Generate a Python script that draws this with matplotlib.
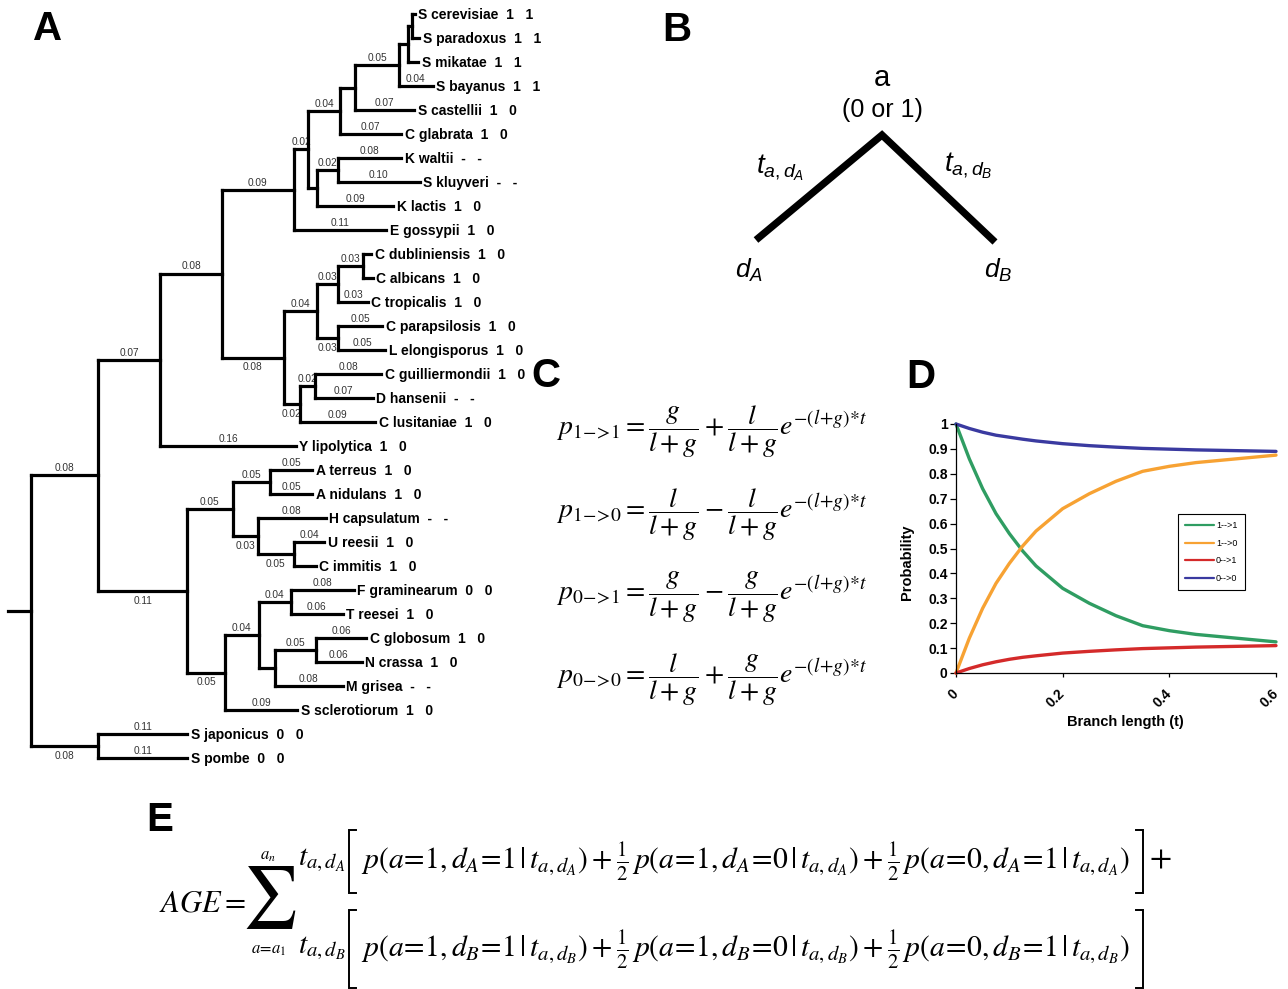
import matplotlib
matplotlib.use("Agg")
import matplotlib.pyplot as plt

W, H = 1288, 989

# ---------------- Panel A : tree data ----------------
LEAVES = ["S cerevisiae", "S paradoxus", "S mikatae", "S bayanus", "S castellii",
          "C glabrata", "K waltii", "S kluyveri", "K lactis", "E gossypii",
          "C dubliniensis", "C albicans", "C tropicalis", "C parapsilosis",
          "L elongisporus", "C guilliermondii", "D hansenii", "C lusitaniae",
          "Y lipolytica", "A terreus", "A nidulans", "H capsulatum", "U reesii",
          "C immitis", "F graminearum", "T reesei", "C globosum", "N crassa",
          "M grisea", "S sclerotiorum", "S japonicus", "S pombe"]
STATE_1 = ["1", "1", "1", "1", "1", "1", "-", "-", "1", "1",
           "1", "1", "1", "1", "1", "1", "-", "1", "1",
           "1", "1", "-", "1", "1", "0", "1", "1", "1", "-", "1", "0", "0"]
STATE_2 = ["1", "1", "1", "1", "0", "0", "-", "-", "0", "0",
           "0", "0", "0", "0", "0", "0", "-", "0", "0",
           "0", "0", "-", "0", "0", "0", "0", "0", "0", "-", "0", "0", "0"]

# internal node -> [(child, branch length, shown label)]
CLADES = {
    "root": [("n1", 0.080, "0.08"), ("n_sp", 0.080, "0.08")],
    "n1": [("n2", 0.074, "0.07"), ("n_pez", 0.106, "0.11")],
    "n2": [("n3", 0.073, "0.08"), ("Y lipolytica", 0.161, "0.16")],
    "n3": [("n_sac", 0.086, "0.09"), ("n_ctg", 0.074, "0.08")],
    "n_sac": [("s1", 0.017, "0.02"), ("E gossypii", 0.110, "0.11")],
    "s1": [("s2", 0.038, "0.04"), ("s5", 0.011, None)],
    "s2": [("s3", 0.018, None), ("C glabrata", 0.073, "0.07")],
    "s3": [("s4", 0.052, "0.05"), ("S castellii", 0.070, "0.07")],
    "s4": [("s6", 0.011, None), ("S bayanus", 0.040, "0.04")],
    "s6": [("s7", 0.005, None), ("S mikatae", 0.012, None)],
    "s7": [("S cerevisiae", 0.003, None), ("S paradoxus", 0.008, None)],
    "s5": [("s8", 0.024, "0.02"), ("K lactis", 0.090, "0.09")],
    "s8": [("K waltii", 0.076, "0.08"), ("S kluyveri", 0.098, "0.10")],
    "n_ctg": [("c1", 0.039, "0.04"), ("c5", 0.019, "0.02")],
    "c1": [("c2", 0.026, "0.03"), ("c4", 0.026, "0.03")],
    "c2": [("c3", 0.029, "0.03"), ("C tropicalis", 0.035, "0.03")],
    "c3": [("C dubliniensis", 0.010, None), ("C albicans", 0.012, None)],
    "c4": [("C parapsilosis", 0.052, "0.05"), ("L elongisporus", 0.056, "0.05")],
    "c5": [("c6", 0.018, "0.02"), ("C lusitaniae", 0.090, "0.09")],
    "c6": [("C guilliermondii", 0.079, "0.08"), ("D hansenii", 0.069, "0.07")],
    "n_pez": [("p1", 0.054, "0.05"), ("p5", 0.045, "0.05")],
    "p1": [("p2", 0.044, "0.05"), ("p3", 0.030, "0.03")],
    "p2": [("A terreus", 0.051, "0.05"), ("A nidulans", 0.051, "0.05")],
    "p3": [("H capsulatum", 0.081, "0.08"), ("p4", 0.043, "0.05")],
    "p4": [("U reesii", 0.036, "0.04"), ("C immitis", 0.026, None)],
    "p5": [("p6", 0.040, "0.04"), ("S sclerotiorum", 0.086, "0.09")],
    "p6": [("p7", 0.038, "0.04"), ("p8", 0.019, None)],
    "p7": [("F graminearum", 0.075, "0.08"), ("T reesei", 0.062, "0.06")],
    "p8": [("p9", 0.049, "0.05"), ("M grisea", 0.081, "0.08")],
    "p9": [("C globosum", 0.060, "0.06"), ("N crassa", 0.055, "0.06")],
    "n_sp": [("S japonicus", 0.106, "0.11"), ("S pombe", 0.106, "0.11")],
}
ROOT_STUB = 0.027

# ---------------- Panel B : schematic ----------------
B_X = [756, 882, 995]
B_Y = [240, 135, 242]

# ---------------- Panel D : curves ----------------
T_VALUES = [0, 0.025, 0.05, 0.075, 0.1, 0.125, 0.15, 0.2, 0.25, 0.3, 0.35,
            0.4, 0.45, 0.5, 0.55, 0.6]
P_11 = [1.0, 0.86, 0.74, 0.64, 0.56, 0.49, 0.43, 0.34, 0.28, 0.23, 0.19,
        0.17, 0.155, 0.145, 0.135, 0.125]
P_10 = [0.0, 0.14, 0.26, 0.36, 0.44, 0.51, 0.57, 0.66, 0.72, 0.77, 0.81,
        0.83, 0.845, 0.855, 0.865, 0.875]
P_01 = [0.0, 0.018, 0.033, 0.045, 0.055, 0.063, 0.069, 0.08, 0.087, 0.093,
        0.098, 0.101, 0.104, 0.106, 0.108, 0.11]
P_00 = [1.0, 0.982, 0.967, 0.955, 0.947, 0.939, 0.932, 0.921, 0.913, 0.907,
        0.902, 0.899, 0.896, 0.894, 0.892, 0.89]
SERIES_LABELS = ["1-->1", "1-->0", "0-->1", "0-->0"]
SERIES_COLORS = ["#2f9d62", "#f7a233", "#d42a2a", "#3a3aa0"]
Y_TICKS = [0, 0.1, 0.2, 0.3, 0.4, 0.5, 0.6, 0.7, 0.8, 0.9, 1.0]
Y_TICK_LABELS = ["0", "0.1", "0.2", "0.3", "0.4", "0.5", "0.6", "0.7", "0.8", "0.9", "1"]
X_TICKS = [0, 0.2, 0.4, 0.6]
X_TICK_LABELS = ["0", "0.2", "0.4", "0.6"]

# ---------------- Panel C / E text ----------------
EXPO = r"e^{-(l\!+\!g)\!*\!t}"
EQUATIONS_C = [
    r"$p_{1\!-\!\!>\!1}=\dfrac{g}{l+g}+\dfrac{l}{l+g}" + EXPO + "$",
    r"$p_{1\!-\!\!>\!0}=\dfrac{l}{l+g}-\dfrac{l}{l+g}" + EXPO + "$",
    r"$p_{0\!-\!\!>\!1}=\dfrac{g}{l+g}-\dfrac{g}{l+g}" + EXPO + "$",
    r"$p_{0\!-\!\!>\!0}=\dfrac{l}{l+g}+\dfrac{g}{l+g}" + EXPO + "$",
]
ROW_E = [
    r"$p\left(a\!=\!1,d_A\!=\!1\,|\,t_{a,d_A}\right)+\frac{1}{2}\,p\left(a\!=\!1,d_A\!=\!0\,|\,t_{a,d_A}\right)+\frac{1}{2}\,p\left(a\!=\!0,d_A\!=\!1\,|\,t_{a,d_A}\right)$",
    r"$p\left(a\!=\!1,d_B\!=\!1\,|\,t_{a,d_B}\right)+\frac{1}{2}\,p\left(a\!=\!1,d_B\!=\!0\,|\,t_{a,d_B}\right)+\frac{1}{2}\,p\left(a\!=\!0,d_B\!=\!1\,|\,t_{a,d_B}\right)$",
]
ROW_T = [r"$t_{a,d_A}$", r"$t_{a,d_B}$"]

# =====================================================
plt.rcParams['font.family'] = ['Liberation Sans', 'DejaVu Sans']
plt.rcParams['mathtext.fontset'] = 'stix'
plt.rcParams['mathtext.rm'] = 'Liberation Sans'
plt.rcParams['mathtext.it'] = 'Liberation Sans:italic'
plt.rcParams['mathtext.bf'] = 'Liberation Sans:bold'

fig = plt.figure(figsize=(W / 100, H / 100), dpi=100)

# overlay axes in pixel coordinates
ax_o = fig.add_axes([0, 0, 1, 1])
ax_o.set_xlim(0, W)
ax_o.set_ylim(H, 0)
ax_o.axis('off')

# ---------------- Panel A ----------------
SCALE = 840.0
ROOT_PX, TOP_PX, ROW_PX = 31, 14, 24
TREE_W, TREE_H = 560, 780
ax_t = fig.add_axes([0, 1 - TREE_H / H, TREE_W / W, TREE_H / H])
ax_t.set_xlim(-ROOT_PX / SCALE, (TREE_W - ROOT_PX) / SCALE)
ax_t.set_ylim((TREE_H - TOP_PX) / ROW_PX, -TOP_PX / ROW_PX)
ax_t.axis('off')

hsegs, vsegs, blabels, tips = [], [], [], []


def place(node, x):
    if node not in CLADES:
        y = LEAVES.index(node)
        tips.append((x, y, node))
        return y
    kids = CLADES[node]
    ys = []
    for i, (child, blen, lab) in enumerate(kids):
        yc = place(child, x + blen)
        ys.append(yc)
        hsegs.append((x, x + blen, yc))
        if lab:
            below = (i == len(kids) - 1) and (child in CLADES)
            blabels.append((x + blen / 2, yc, lab, below))
    vsegs.append((x, min(ys), max(ys)))
    return sum(ys) / len(ys)


root_y = place("root", 0.0)
hsegs.append((-ROOT_STUB, 0.0, root_y))

LW_TREE = 2.3
for x0, x1, y in hsegs:
    ax_t.plot([x0, x1], [y, y], color='black', lw=LW_TREE,
              solid_capstyle='projecting', zorder=3)
for x, y0, y1 in vsegs:
    ax_t.plot([x, x], [y0, y1], color='black', lw=LW_TREE,
              solid_capstyle='projecting', zorder=3)

for xm, y, lab, below in blabels:
    ax_t.annotate(lab, (xm, y), xytext=(0, -9.3 if below else 3.0),
                  textcoords='offset points', ha='center', va='baseline',
                  fontsize=7.3, color='#333333', zorder=2)

for x, y, name in tips:
    i = LEAVES.index(name)
    ax_t.annotate(f"{name}  {STATE_1[i]}   {STATE_2[i]}", (x, y),
                  xytext=(2.5, -3.6), textcoords='offset points',
                  ha='left', va='baseline', fontsize=10, fontweight='bold',
                  zorder=4)

# ---------------- Panel letters ----------------
for letter, px, py in [("A", 48, 29), ("B", 677, 30), ("C", 546, 376),
                       ("D", 921, 377), ("E", 160, 820)]:
    ax_o.text(px, py, letter, fontsize=29, fontweight='bold',
              ha='center', va='center')

# ---------------- Panel B ----------------
ax_o.plot(B_X, B_Y, color='black', lw=5.2, solid_joinstyle='miter',
          solid_capstyle='butt')
ax_o.text(882, 78, "a", fontsize=21, ha='center', va='center')
ax_o.text(882, 110, "(0 or 1)", fontsize=18, ha='center', va='center')
ax_o.text(780, 168, r"$t_{a,d_A}$", fontsize=20, ha='center', va='center',
          math_fontfamily='custom')
ax_o.text(968, 166, r"$t_{a,d_B}$", fontsize=20, ha='center', va='center',
          math_fontfamily='custom')
ax_o.text(749, 270, r"$d_A$", fontsize=19, ha='center', va='center',
          math_fontfamily='custom')
ax_o.text(998, 270, r"$d_B$", fontsize=19, ha='center', va='center',
          math_fontfamily='custom')

# ---------------- Panel C ----------------
for s, yc in zip(EQUATIONS_C, [432, 515, 597, 680]):
    ax_o.text(556, yc, s, fontsize=20, ha='left', va='center',
              math_fontfamily='stix')

# ---------------- Panel E ----------------
renderer = fig.canvas.get_renderer()
ax_o.text(246, 903, r"$AGE=$", fontsize=22, ha='right', va='center',
          math_fontfamily='stix')
ax_o.text(269, 898, r"$\sum$", fontsize=44, ha='center', va='center',
          math_fontfamily='stix')
ax_o.text(268, 857, r"$a_n$", fontsize=12, ha='center', va='center',
          math_fontfamily='stix')
ax_o.text(269, 950, r"$a\!=\!a_1$", fontsize=12, ha='center', va='center',
          math_fontfamily='stix')

row_y = [862, 950]
probe = ax_o.text(361, row_y[0], ROW_E[0], fontsize=16, ha='left',
                  va='center', math_fontfamily='stix')
bb = probe.get_window_extent(renderer)
fs_e = 16 * 774 / bb.width
probe.set_fontsize(fs_e)
ax_o.text(361, row_y[1], ROW_E[1], fontsize=fs_e, ha='left', va='center',
          math_fontfamily='stix')
for s, yc in zip(ROW_T, row_y):
    ax_o.text(298, yc - 2, s, fontsize=fs_e, ha='left', va='center',
              math_fontfamily='stix')
ax_o.text(1160, 858, r"$+$", fontsize=fs_e + 2, ha='center', va='center',
          math_fontfamily='stix')

for y0, y1 in [(830, 893), (910, 988)]:
    ax_o.plot([356, 349, 349, 356], [y0, y0, y1, y1], color='black', lw=1.4,
              solid_joinstyle='miter')
    ax_o.plot([1136, 1143, 1143, 1136], [y0, y0, y1, y1], color='black',
              lw=1.4, solid_joinstyle='miter')

# ---------------- Panel D ----------------
ax_d = fig.add_axes([956 / W, 1 - 673 / H, 320 / W, 249 / H])
for vals, col, lab in zip([P_11, P_10, P_01, P_00], SERIES_COLORS, SERIES_LABELS):
    ax_d.plot(T_VALUES, vals, color=col, lw=2.4, label=lab, clip_on=False,
              solid_capstyle='round')
ax_d.set_xlim(0, 0.6)
ax_d.set_ylim(0, 1)
for sp in ['top', 'right']:
    ax_d.spines[sp].set_visible(False)
for sp in ['left', 'bottom']:
    ax_d.spines[sp].set_linewidth(0.9)
ax_d.set_yticks(Y_TICKS)
ax_d.set_yticklabels(Y_TICK_LABELS, fontsize=10, fontweight='bold')
ax_d.set_xticks(X_TICKS)
ax_d.set_xticklabels(X_TICK_LABELS, fontsize=10, fontweight='bold',
                     rotation=45, rotation_mode='anchor', ha='right', va='center')
ax_d.tick_params(axis='y', direction='out', length=4, width=0.9, pad=2)
ax_d.tick_params(axis='x', direction='out', length=3, width=0.9, pad=10.5)
ax_d.set_xlabel("Branch length (t)", fontsize=10.5, fontweight='bold')
ax_d.xaxis.set_label_coords((1125 - 956) / 320, -(715 - 673) / 249)
ax_d.set_ylabel("Probability", fontsize=10.5, fontweight='bold')
ax_d.yaxis.set_label_coords((907 - 956) / 320, (673 - 562) / 249)
ax_d.yaxis.label.set_verticalalignment('center')
ax_d.set_facecolor('none')

leg = ax_d.legend(loc='upper left', bbox_to_anchor=(1178 / W, 1 - 514 / H),
                  bbox_transform=fig.transFigure, fontsize=6.5, frameon=True,
                  fancybox=False, edgecolor='black', framealpha=1,
                  borderaxespad=0, borderpad=0.8, labelspacing=0.95,
                  handlelength=3.2, handletextpad=0.2)
leg.get_frame().set_linewidth(0.8)
for ln in leg.get_lines():
    ln.set_linewidth(1.6)

fig.savefig("out.png", dpi=100)
